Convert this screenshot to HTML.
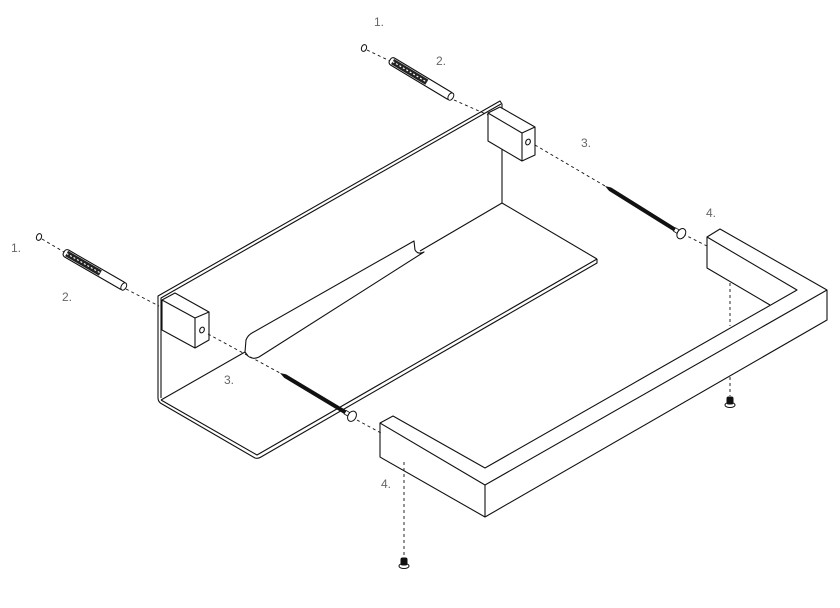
<!DOCTYPE html>
<html><head><meta charset="utf-8"><style>
html,body{margin:0;padding:0;background:#fff;}
svg{display:block;}
text{font-family:"Liberation Sans",sans-serif;font-size:12px;fill:#666;}
</style></head><body>
<svg width="840" height="608" viewBox="0 0 840 608" xmlns="http://www.w3.org/2000/svg">
<g fill="none" stroke="#111" stroke-width="1.1" stroke-linejoin="round">
<!-- bracket back wall -->
<polyline points="158,398 158,296 500,101 502,104 502,203"/>
<polyline points="161,398 161,298 501,104"/>
<!-- bend and shelf -->
<path d="M158,398 Q158,402 162,404 L255,458 Q258,459 261,457 L597,263 L597,259"/>
<polyline points="161,400 257,455 597,259"/>
<line x1="502" y1="203" x2="597" y2="259"/>
<!-- floor-wall junction -->
<line x1="161" y1="400" x2="245" y2="352"/>
<line x1="420" y1="251" x2="502" y2="203"/>
<!-- slot lip -->
<path d="M245,352 L246,340 Q248,335 252,333 L414,241 L415,250 Q418,255 424,252 L259,357 Q253,360 248,356 Z"/>
<!-- left block -->
<path fill="#fff" d="M162,300 L175,293 L209,312 L209,340 L195,348 L162,330 Z"/>
<polyline points="162,300 195,318 209,312"/>
<line x1="195" y1="318" x2="195" y2="348"/>
<ellipse cx="202" cy="330" rx="2.2" ry="3" transform="rotate(25 202 330)"/>
<!-- right block -->
<path fill="#fff" d="M488,113 L500,107 L535,127 L535,155 L522,161 L488,141 Z"/>
<polyline points="488,113 522,133 535,127"/>
<line x1="522" y1="133" x2="522" y2="161"/>
<ellipse cx="528" cy="142" rx="2.2" ry="3" transform="rotate(25 528 142)"/>
<!-- handle -->
<polygon points="380,423 393,416 485,468 797,290 707,237 720,229 827,290 827,320 485,517 380,457"/>
<polyline points="380,423 485,485 827,290"/>
<line x1="485" y1="485" x2="485" y2="517"/>
<polyline points="707,237 707,268 770,305"/>
</g>
<!-- dashed lines -->
<g fill="none" stroke="#111" stroke-width="0.9" stroke-dasharray="3,3">
<line x1="367" y1="50" x2="390" y2="61"/>
<line x1="454" y1="100" x2="488" y2="115"/>
<line x1="535" y1="145" x2="605" y2="186"/>
<line x1="683" y1="234" x2="707" y2="246"/>
<line x1="42" y1="239" x2="64" y2="252"/>
<line x1="126" y1="289" x2="159" y2="306"/>
<line x1="208" y1="334" x2="280" y2="373"/>
<line x1="357" y1="420" x2="381" y2="433"/>
<line x1="730" y1="283" x2="730" y2="326"/>
<line x1="730" y1="377" x2="730" y2="396"/>
<line x1="404" y1="462" x2="404" y2="557"/>
</g>
<!-- washers -->
<g fill="none" stroke="#111" stroke-width="1">
<ellipse cx="364" cy="48" rx="2.5" ry="3.5" transform="rotate(20 364 48)"/>
<ellipse cx="39" cy="237" rx="2.5" ry="3.5" transform="rotate(20 39 237)"/>
</g>
<!-- anchors -->
<g transform="translate(390,60) rotate(31)">
<rect x="0" y="-4" width="72" height="8" rx="3" fill="#fff" stroke="#111" stroke-width="1.1"/>
<rect x="3" y="-3" width="40" height="6" fill="#222"/>
<line x1="3" y1="0" x2="43" y2="0" stroke="#fff" stroke-width="1.2" stroke-dasharray="2,2"/>
<ellipse cx="71" cy="0" rx="2.5" ry="4" fill="#fff" stroke="#111"/>
</g>
<g transform="translate(64,252) rotate(30)">
<rect x="0" y="-4" width="70" height="8" rx="3" fill="#fff" stroke="#111" stroke-width="1.1"/>
<rect x="3" y="-3" width="39" height="6" fill="#222"/>
<line x1="3" y1="0" x2="42" y2="0" stroke="#fff" stroke-width="1.2" stroke-dasharray="2,2"/>
<ellipse cx="69" cy="0" rx="2.5" ry="4" fill="#fff" stroke="#111"/>
</g>
<!-- screws -->
<g transform="translate(605,186) rotate(32)">
<path d="M0,0 L6,-2 L82,-2 L82,2 L6,2 Z" fill="#111"/>
<rect x="82" y="-2" width="4" height="4" fill="#fff" stroke="#111" stroke-width="0.8"/>
<ellipse cx="90" cy="0" rx="4" ry="5.5" fill="#fff" stroke="#111"/>
</g>
<g transform="translate(280,373) rotate(31)">
<path d="M0,0 L6,-2 L76,-2 L76,2 L6,2 Z" fill="#111"/>
<rect x="76" y="-2" width="4" height="4" fill="#fff" stroke="#111" stroke-width="0.8"/>
<ellipse cx="84" cy="0" rx="4" ry="5.5" fill="#fff" stroke="#111"/>
</g>
<!-- small bottom screws -->
<g stroke="#111" stroke-width="1">
<ellipse cx="730" cy="405" rx="5" ry="2.5" fill="#fff"/>
<rect x="727" y="397" width="6" height="7" rx="1.5" fill="#111"/>
<ellipse cx="404" cy="566" rx="5" ry="2.5" fill="#fff"/>
<rect x="401" y="558" width="6" height="7" rx="1.5" fill="#111"/>
</g>
<!-- labels -->
<text x="374" y="26">1.</text>
<text x="436" y="65">2.</text>
<text x="581" y="147">3.</text>
<text x="706" y="217">4.</text>
<text x="11" y="252">1.</text>
<text x="62" y="301">2.</text>
<text x="224" y="384">3.</text>
<text x="381" y="488">4.</text>
</svg>
</body></html>
